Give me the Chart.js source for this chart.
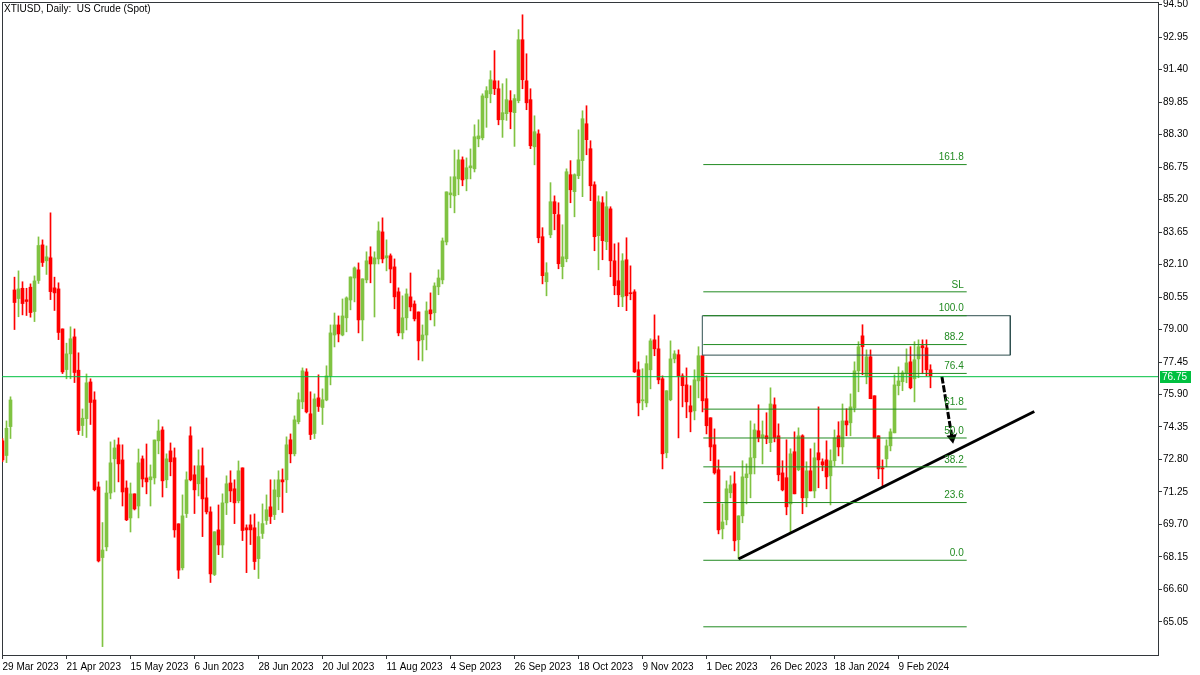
<!DOCTYPE html>
<html>
<head>
<meta charset="utf-8">
<title>XTIUSD, Daily</title>
<script src="https://cdn.jsdelivr.net/npm/chart.js@4.4.1/dist/chart.umd.min.js"></script>
<style>
  html, body { margin: 0; padding: 0; background: #fff; }
  canvas { display: block; }
</style>
</head>
<body>
<canvas id="chart" width="1200" height="675"></canvas>
<script>
// daily OHLC, one entry per bar, 29 Mar 2023 .. 20 Feb 2024
const opens = [
  73.69, 72.99, 74.37, 80.89, 80.48, 80.97, 80.42, 81.02, 79.86, 81.34,
  83.04, 82.28, 82.42, 80.99, 80.94, 79.03, 77.09, 77.84, 78.65, 77.06,
  74.42, 74.75, 76.50, 75.64, 71.49, 68.12, 68.63, 71.20, 72.83, 73.50,
  72.78, 71.44, 70.01, 71.16, 70.58, 72.83, 71.92, 71.83, 71.92, 73.69,
  74.21, 71.83, 73.21, 72.88, 69.73, 67.63, 70.22, 73.93, 72.07, 71.64,
  72.50, 70.97, 70.30, 67.31, 69.44, 68.72, 70.73, 71.68, 71.40, 70.83,
  72.40, 69.54, 69.68, 69.54, 68.07, 69.27, 69.89, 70.54, 70.17, 71.02,
  71.83, 71.83, 73.74, 73.07, 74.60, 75.55, 76.98, 74.98, 74.04, 75.74,
  75.28, 75.64, 76.79, 78.74, 79.22, 78.74, 79.56, 80.41, 81.46, 81.85,
  79.46, 81.37, 82.47, 82.13, 82.37, 83.66, 82.42, 82.52, 81.99, 80.80,
  78.84, 79.56, 80.56, 80.22, 79.84, 78.51, 78.74, 79.94, 79.80, 81.04,
  81.37, 83.18, 85.43, 85.38, 86.19, 87.10, 86.19, 86.72, 86.67, 88.10,
  88.15, 90.06, 90.25, 90.87, 90.49, 89.01, 89.30, 89.92, 89.35, 89.92,
  92.83, 90.87, 89.97, 87.72, 88.34, 83.43, 81.28, 83.52, 85.10, 84.48,
  82.00, 82.38, 86.39, 85.58, 86.34, 87.06, 88.82, 87.63, 85.91, 83.48,
  85.05, 83.19, 84.76, 82.28, 81.33, 80.56, 82.33, 80.75, 80.80, 77.08,
  75.60, 75.50, 77.08, 78.51, 78.08, 76.65, 73.12, 75.65, 77.60, 77.80,
  76.79, 76.36, 75.36, 75.12, 76.55, 77.75, 75.70, 74.79, 73.50, 72.31,
  69.49, 69.92, 71.21, 71.64, 68.97, 70.11, 71.93, 72.11, 72.88, 74.17,
  73.83, 73.93, 73.60, 75.41, 73.93, 72.16, 71.93, 70.68, 73.17, 72.31,
  73.93, 70.97, 72.26, 71.30, 73.12, 72.69, 72.78, 72.02, 72.74, 73.93,
  73.40, 74.64, 74.55, 75.26, 77.03, 78.70, 76.79, 77.70, 75.84, 73.93,
  72.40, 72.83, 73.45, 74.07, 76.32, 76.51, 76.89, 77.46, 76.65, 77.60,
  78.23, 78.13, 77.08
];
const highs = [
  73.80, 74.64, 75.79, 81.50, 81.80, 81.28, 80.97, 81.18, 81.56, 83.42,
  83.28, 82.99, 84.57, 81.50, 81.23, 79.03, 78.35, 79.13, 79.03, 77.89,
  75.21, 76.88, 76.65, 76.03, 71.73, 69.79, 71.78, 73.64, 73.73, 73.83,
  73.50, 71.78, 71.68, 71.16, 73.30, 72.97, 73.54, 72.54, 73.73, 74.69,
  74.36, 73.07, 73.59, 73.35, 69.73, 71.11, 72.21, 74.36, 72.50, 73.26,
  73.35, 71.92, 70.54, 69.35, 70.63, 71.16, 72.02, 72.26, 71.83, 72.73,
  72.40, 69.68, 70.16, 70.20, 69.82, 70.68, 71.11, 71.83, 71.83, 72.26,
  72.35, 73.88, 74.02, 74.88, 75.98, 77.17, 77.13, 76.03, 75.93, 76.84,
  76.17, 77.27, 79.22, 79.79, 79.65, 80.46, 80.56, 81.51, 81.99, 82.18,
  81.42, 82.71, 82.95, 82.71, 84.14, 84.33, 83.28, 82.61, 82.37, 80.99,
  80.61, 80.94, 81.70, 80.37, 79.84, 79.22, 80.32, 80.75, 81.23, 81.85,
  83.37, 85.57, 86.29, 87.57, 87.57, 87.24, 87.19, 87.62, 88.77, 89.01,
  90.25, 90.59, 91.35, 92.31, 90.87, 90.73, 90.97, 90.40, 90.21, 93.31,
  94.02, 92.16, 90.49, 89.20, 88.53, 83.86, 82.19, 86.01, 85.38, 85.05,
  84.00, 86.67, 87.06, 86.43, 88.53, 89.44, 89.68, 88.01, 86.05, 85.38,
  85.34, 85.58, 84.86, 83.09, 83.14, 82.62, 83.38, 82.04, 80.90, 77.46,
  77.13, 77.75, 78.56, 79.70, 78.70, 76.79, 76.08, 78.46, 77.99, 78.03,
  76.89, 77.17, 76.32, 77.08, 78.18, 77.75, 76.79, 74.79, 74.26, 72.78,
  70.68, 71.78, 72.02, 72.21, 70.11, 72.74, 72.59, 74.64, 74.50, 75.41,
  74.64, 75.03, 76.22, 75.74, 74.50, 72.74, 73.74, 73.31, 74.12, 74.31,
  73.98, 72.69, 73.31, 73.59, 75.31, 72.83, 73.69, 73.26, 74.21, 74.60,
  75.45, 75.22, 75.93, 77.46, 78.42, 79.23, 78.03, 78.03, 75.84, 73.93,
  72.78, 73.74, 74.26, 76.84, 77.22, 77.03, 78.08, 78.18, 78.42, 78.51,
  78.51, 78.51, 77.32
];
const lows = [
  72.70, 72.65, 73.80, 79.00, 79.61, 79.70, 79.67, 79.59, 79.38, 81.20,
  82.01, 81.63, 80.43, 79.91, 78.52, 76.90, 76.65, 76.65, 76.47, 73.99,
  73.94, 73.85, 74.47, 71.30, 67.91, 63.87, 68.44, 70.92, 71.25, 71.73,
  70.58, 69.88, 69.34, 70.39, 70.01, 71.49, 71.16, 70.58, 71.63, 73.07,
  71.01, 71.45, 72.02, 69.09, 67.12, 67.53, 70.03, 71.78, 70.22, 71.06,
  69.12, 70.20, 66.93, 67.26, 68.26, 68.12, 70.17, 70.78, 69.74, 70.73,
  68.93, 67.40, 68.74, 67.55, 67.12, 69.03, 69.70, 69.74, 69.93, 70.40,
  70.27, 71.22, 72.64, 72.97, 74.50, 75.22, 75.02, 73.75, 73.80, 75.09,
  74.47, 75.60, 76.36, 78.17, 78.41, 78.70, 78.89, 79.94, 80.32, 78.84,
  78.46, 81.23, 81.23, 79.60, 82.13, 82.18, 81.80, 81.23, 79.99, 78.70,
  78.55, 78.98, 79.89, 79.41, 77.55, 77.50, 78.03, 79.46, 79.17, 80.66,
  81.18, 83.04, 84.81, 84.57, 85.43, 85.86, 85.62, 86.19, 86.52, 87.72,
  88.05, 88.65, 89.82, 90.21, 88.77, 88.17, 88.98, 88.58, 87.74, 89.82,
  90.49, 89.49, 87.63, 86.86, 83.14, 81.18, 80.61, 83.38, 83.76, 81.90,
  81.42, 82.23, 85.05, 84.38, 86.20, 85.34, 87.34, 85.15, 82.76, 81.85,
  82.33, 82.81, 81.52, 80.66, 80.09, 80.09, 79.90, 80.42, 76.95, 74.88,
  75.17, 75.31, 76.17, 77.75, 76.41, 72.35, 72.88, 75.60, 77.41, 73.83,
  75.31, 74.79, 74.12, 74.69, 75.74, 75.07, 74.02, 72.74, 72.10, 69.25,
  69.01, 69.68, 70.97, 68.44, 68.06, 69.78, 70.68, 70.97, 72.11, 73.64,
  72.59, 73.55, 73.17, 73.64, 71.78, 71.30, 70.16, 69.35, 71.16, 72.26,
  70.21, 70.54, 71.30, 70.97, 71.45, 72.26, 71.40, 70.63, 72.50, 72.97,
  72.59, 73.93, 73.93, 75.07, 76.03, 76.84, 76.41, 75.70, 73.83, 71.88,
  71.49, 72.45, 73.21, 74.07, 75.88, 76.08, 76.46, 76.17, 75.55, 76.70,
  76.89, 76.79, 76.22
];
const closes = [
  72.78, 74.29, 75.64, 80.29, 80.94, 80.24, 80.34, 79.81, 81.32, 83.01,
  82.20, 82.47, 80.81, 80.75, 78.86, 76.98, 77.84, 78.56, 76.95, 74.18,
  74.77, 76.46, 75.52, 71.36, 67.96, 68.48, 71.20, 72.64, 73.35, 72.59,
  71.25, 69.92, 71.16, 70.44, 72.64, 71.87, 71.73, 71.97, 73.73, 74.16,
  71.78, 72.83, 72.69, 69.44, 67.52, 70.11, 71.83, 71.83, 71.35, 72.50,
  70.92, 70.30, 67.34, 69.35, 68.72, 70.73, 71.64, 71.30, 70.73, 72.26,
  69.41, 69.44, 69.44, 67.93, 69.12, 69.74, 70.40, 70.08, 71.35, 71.83,
  71.73, 73.50, 73.07, 74.69, 75.65, 77.03, 75.07, 73.99, 75.69, 75.33,
  75.65, 76.79, 78.84, 79.22, 78.79, 79.65, 80.51, 81.51, 81.94, 79.46,
  81.42, 82.28, 82.13, 82.42, 83.71, 82.37, 82.52, 81.89, 80.56, 78.84,
  79.56, 80.70, 80.08, 79.51, 78.46, 78.74, 79.89, 79.75, 81.08, 81.46,
  83.23, 85.57, 85.52, 86.29, 87.10, 86.14, 86.72, 86.81, 88.20, 88.24,
  90.15, 90.40, 90.92, 90.49, 89.01, 89.35, 89.97, 89.39, 90.02, 92.83,
  90.92, 89.82, 87.77, 88.44, 83.38, 81.57, 81.71, 85.10, 84.53, 82.14,
  82.47, 86.53, 85.67, 86.39, 87.10, 89.06, 88.06, 85.86, 83.43, 85.10,
  83.24, 84.86, 82.28, 81.09, 80.66, 82.28, 80.61, 80.71, 76.98, 75.50,
  75.64, 77.37, 78.46, 78.08, 76.60, 73.07, 76.08, 77.60, 77.84, 76.79,
  76.32, 75.55, 75.07, 76.60, 77.75, 75.60, 74.41, 73.40, 72.16, 69.44,
  69.82, 71.40, 71.59, 68.92, 70.11, 71.97, 72.11, 72.88, 74.21, 73.83,
  73.98, 73.79, 75.45, 73.83, 72.07, 71.35, 70.54, 73.07, 71.16, 73.93,
  70.97, 72.26, 71.30, 72.88, 72.78, 72.54, 71.97, 72.74, 73.83, 73.40,
  74.64, 74.45, 75.31, 77.03, 78.18, 78.18, 77.70, 75.70, 73.83, 72.35,
  72.35, 73.45, 74.12, 76.36, 76.55, 76.94, 77.41, 76.22, 77.56, 78.18,
  78.13, 77.08, 76.79
];

// time axis: bar index of each date label
const dateTicks = [0, 16, 32, 48, 64, 80, 96, 112, 128, 144, 160, 176, 192, 208, 224];
const dateLabels = [
  '29 Mar 2023', '21 Apr 2023', '15 May 2023', '6 Jun 2023', '28 Jun 2023',
  '20 Jul 2023', '11 Aug 2023', '4 Sep 2023', '26 Sep 2023', '18 Oct 2023',
  '9 Nov 2023', '1 Dec 2023', '26 Dec 2023', '18 Jan 2024', '9 Feb 2024'
];
const priceTicks = [
  65.05, 66.60, 68.15, 69.70, 71.25, 72.80, 74.35, 75.90, 77.45, 79.00,
  80.55, 82.10, 83.65, 85.20, 86.75, 88.30, 89.85, 91.40, 92.95, 94.50
];

// drawing objects on the chart
const lastPrice = 76.75;
const fibLow = 67.99;
const fibHigh = 79.66;
const fibLevels = [0, 23.6, 38.2, 50, 61.8, 76.4, 88.2, 100, 161.8, -27.2];
const fibLabels = ['0.0', '23.6', '38.2', '50.0', '61.8', '76.4', '88.2', '100.0', '161.8', ''];
const fibBars = [175.2, 241.05];
const stopLoss = 80.80;
const zoneBars = [174.95, 251.95];
const zonePrices = [79.66, 77.78];
const trendBars = [184, 257.95];
const trendPrices = [68.05, 75.09];
const arrowBars = [234.85, 237.4];
const arrowPrices = [76.76, 73.83];

const UP = '#80c342';
const DOWN = '#ff0000';
const FIB = '#228b22';
const FRAME = '#33373b';
const FONT = '"Liberation Sans", Arial, sans-serif';
const X_MIN = -0.125;
const X_MAX = X_MIN + 1156 / 4;

function candleColors() {
    return closes.map((c, i) => (c >= opens[i] ? UP : DOWN));
}

function fibPrice(level) {
    return fibLow + (fibHigh - fibLow) * level / 100;
}

function segment(xs, ys, color, width, extra) {
    return Object.assign({
        type: 'line',
        data: xs.map((x, i) => ({ x: x, y: ys[i] })),
        borderColor: color,
        borderWidth: width,
        pointRadius: 0,
        fill: false,
        tension: 0,
        order: 0
    }, extra || {});
}

function buildDatasets() {
    const colors = candleColors();
    const sets = [
        {
            type: 'bar',
            data: opens.map((o, i) => ({ x: i, y: [o, closes[i]] })),
            backgroundColor: colors,
            barThickness: 3,
            minBarLength: 1,
            grouped: false,
            borderWidth: 0,
            order: 1
        },
        {
            type: 'bar',
            data: lows.map((l, i) => ({ x: i, y: [l, highs[i]] })),
            backgroundColor: colors,
            barThickness: 1,
            minBarLength: 1,
            grouped: false,
            borderWidth: 0,
            order: 2
        }
    ];

    fibLevels.forEach(level => {
        const p = fibPrice(level);
        sets.push(segment(fibBars, [p, p], FIB, 1));
    });
    sets.push(segment(fibBars, [stopLoss, stopLoss], FIB, 1));

    sets.push(segment(
        [zoneBars[0], zoneBars[1], zoneBars[1], zoneBars[0], zoneBars[0]],
        [zonePrices[0], zonePrices[0], zonePrices[1], zonePrices[1], zonePrices[0]],
        '#2f4f4f', 1));

    sets.push(segment([X_MIN, X_MAX], [lastPrice, lastPrice], '#00c040', 1));
    sets.push(segment(trendBars, trendPrices, '#000', 3));
    sets.push(segment(arrowBars, arrowPrices, '#000', 3, { borderDash: [7, 2] }));
    sets.push(segment([arrowBars[1]], [arrowPrices[1]], '#000', 1, {
        pointRadius: 6,
        pointStyle: 'triangle',
        pointRotation: 170,
        pointBackgroundColor: '#000',
        pointBorderWidth: 0
    }));
    return sets;
}

const framePlugin = {
    id: 'frame',
    beforeDatasetsDraw(chart) {
        const a = chart.chartArea;
        const ctx = chart.ctx;
        ctx.save();
        ctx.strokeStyle = FRAME;
        ctx.lineWidth = 1;
        ctx.strokeRect(a.left + 0.5, a.top + 0.5, a.right - a.left, a.bottom - a.top);
        ctx.restore();
    }
};

const textPlugin = {
    id: 'texts',
    afterDraw(chart) {
        const ctx = chart.ctx;
        const xs = chart.scales.x;
        const ys = chart.scales.y;
        ctx.save();
        ctx.font = '10px ' + FONT;

        ctx.fillStyle = '#000';
        ctx.textAlign = 'left';
        ctx.textBaseline = 'top';
        ctx.fillText('XTIUSD, Daily:  US Crude (Spot)', 4, 4);

        ctx.fillStyle = FIB;
        ctx.textAlign = 'right';
        ctx.textBaseline = 'bottom';
        const right = xs.getPixelForValue(fibBars[1]) - 3;
        fibLevels.forEach((level, i) => {
            if (!fibLabels[i]) return;
            ctx.fillText(fibLabels[i], right, ys.getPixelForValue(fibPrice(level)) - 2);
        });
        ctx.fillText('SL', right, ys.getPixelForValue(stopLoss) - 2);

        const y = Math.round(ys.getPixelForValue(lastPrice));
        ctx.fillStyle = '#00c040';
        ctx.fillRect(chart.chartArea.right + 2, y - 6, 31, 12);
        ctx.fillStyle = '#fff';
        ctx.textAlign = 'left';
        ctx.textBaseline = 'middle';
        ctx.fillText(lastPrice.toFixed(2), chart.chartArea.right + 4, y + 0.5);
        ctx.restore();
    }
};

function renderChart() {
    const canvas = document.getElementById('chart');
    if (!canvas || typeof Chart === 'undefined') return;

    new Chart(canvas, {
        type: 'bar',
        data: { datasets: buildDatasets() },
        options: {
            responsive: false,
            animation: false,
            devicePixelRatio: 1,
            layout: { autoPadding: false, padding: { left: 2, top: 2, right: 0, bottom: 0 } },
            plugins: {
                legend: { display: false },
                tooltip: { enabled: false }
            },
            scales: {
                x: {
                    type: 'linear',
                    position: 'bottom',
                    min: X_MIN,
                    max: X_MAX,
                    offset: false,
                    afterBuildTicks: s => { s.ticks = dateTicks.map(v => ({ value: v })); },
                    afterFit: s => { s.height = 20; s.paddingLeft = 0; s.paddingRight = 0; },
                    grid: { offset: false, drawOnChartArea: false, drawTicks: true, tickLength: 4, color: FRAME },
                    border: { display: false },
                    ticks: {
                        autoSkip: false,
                        maxRotation: 0,
                        align: 'start',
                        padding: 2,
                        color: '#000',
                        font: { family: FONT, size: 10 },
                        callback: v => dateLabels[dateTicks.indexOf(v)]
                    }
                },
                y: {
                    type: 'linear',
                    position: 'right',
                    min: 63.47,
                    max: 94.63,
                    afterBuildTicks: s => { s.ticks = priceTicks.map(v => ({ value: v })); },
                    afterFit: s => { s.width = 42; s.paddingTop = 0; s.paddingBottom = 0; },
                    grid: { drawOnChartArea: false, drawTicks: true, tickLength: 4, color: FRAME },
                    border: { display: false },
                    ticks: {
                        autoSkip: false,
                        padding: 1,
                        color: '#000',
                        font: { family: FONT, size: 10 },
                        callback: v => Number(v).toFixed(2)
                    }
                }
            }
        },
        plugins: [framePlugin, textPlugin]
    });
}

document.addEventListener('DOMContentLoaded', renderChart);
</script>
</body>
</html>
